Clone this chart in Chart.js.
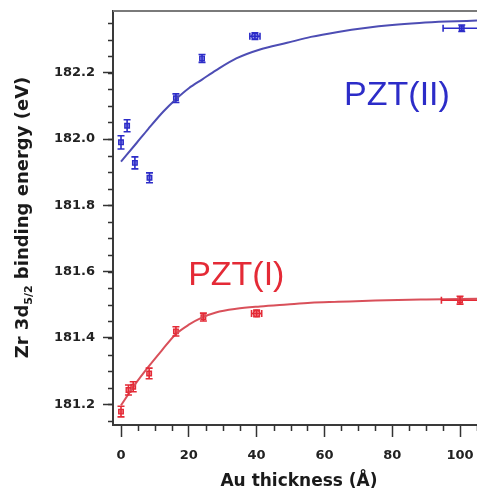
<!DOCTYPE html>
<html><head><meta charset="utf-8">
<script src="https://cdn.jsdelivr.net/npm/chart.js@4.4.1/dist/chart.umd.min.js"></script>
<style>html,body{margin:0;padding:0;background:#fff;overflow:hidden}#wrap{width:477px;height:489px;position:relative}</style>
</head><body><div id="wrap"><canvas id="c"></canvas></div>
<script>
// ---- data ----
const blueX    = [0, 1.8, 4.1, 8.4, 16.2, 23.9, 39.5, 100.5];
const blueY    = [181.99, 182.04, 181.928, 181.883, 182.123, 182.243, 182.31, 182.334];
const blueYErr = [0.02, 0.018, 0.018, 0.015, 0.013, 0.012, 0.01, 0.01];
const blueXErr = [0, 0, 0, 0, 0, 0, 1.5, 5.5];
const redX     = [0, 2.2, 3.6, 8.3, 16.2, 24.3, 40, 100];
const redY     = [181.178, 181.243, 181.253, 181.293, 181.42, 181.463, 181.474, 181.514];
const redYErr  = [0.016, 0.015, 0.015, 0.016, 0.014, 0.012, 0.01, 0.012];
const redXErr  = [0, 0, 0, 0, 0, 0, 1.5, 5.5];
const blueFitX = [0, 4.6, 8, 12.5, 16.2, 20, 24, 28, 34, 41, 49, 56, 64, 72, 80, 88, 96, 105];
const blueFitY = [181.932, 181.988, 182.03, 182.083, 182.12, 182.153, 182.18, 182.207, 182.243, 182.27, 182.29, 182.308, 182.323, 182.335, 182.344, 182.35, 182.354, 182.357];
const redFitX  = [0, 4, 8, 12, 16, 20, 24, 28, 34, 41, 49, 56, 64, 75, 90, 105];
const redFitY  = [181.197, 181.258, 181.312, 181.362, 181.41, 181.44, 181.462, 181.477, 181.488, 181.495, 181.501, 181.506, 181.509, 181.513, 181.516, 181.518];
const xTicks   = [0, 20, 40, 60, 80, 100];
const yTicks   = [181.2, 181.4, 181.6, 181.8, 182.0, 182.2];
const xTitle   = 'Au thickness (Å)';
const yTitleA  = 'Zr 3d', yTitleSub = '5/2', yTitleB = ' binding energy (eV)';
const labelII  = {text: 'PZT(II)', x: 65.8, y: 182.103};
const labelI   = {text: 'PZT(I)',  x: 19.8, y: 181.56};

const BLUE = '#2c2cc8', BLUE_LINE = '#4d4db4', RED = '#e42a36', RED_LINE = '#d9505a';
const pts = (xs, ys) => xs.map((x, i) => ({x, y: ys[i]}));

const errPlugin = {
  id: 'err',
  afterDatasetsDraw(chart) {
    const {ctx} = chart, xs = chart.scales.x, ys = chart.scales.y;
    chart.data.datasets.forEach(ds => {
      if (!ds.yErr) return;
      ctx.save();
      ctx.strokeStyle = ds.borderColor; ctx.lineWidth = 1.6;
      ds.data.forEach((p, i) => {
        const px = xs.getPixelForValue(p.x), py = ys.getPixelForValue(p.y);
        const y1 = ys.getPixelForValue(p.y + ds.yErr[i]), y2 = ys.getPixelForValue(p.y - ds.yErr[i]);
        ctx.beginPath();
        ctx.moveTo(px, y1); ctx.lineTo(px, y2);
        ctx.moveTo(px - 3.5, y1); ctx.lineTo(px + 3.5, y1);
        ctx.moveTo(px - 3.5, y2); ctx.lineTo(px + 3.5, y2);
        if (ds.xErr[i] > 0) {
          const x1 = xs.getPixelForValue(p.x - ds.xErr[i]), x2 = xs.getPixelForValue(p.x + ds.xErr[i]);
          ctx.moveTo(x1, py); ctx.lineTo(x2, py);
          ctx.moveTo(x1, py - 3.5); ctx.lineTo(x1, py + 3.5);
          ctx.moveTo(x2, py - 3.5); ctx.lineTo(x2, py + 3.5);
        }
        ctx.stroke();
      });
      ctx.restore();
    });
  }
};

const decorPlugin = {
  id: 'decor',
  afterDraw(chart) {
    const {ctx, chartArea: a} = chart, xs = chart.scales.x, ys = chart.scales.y;
    ctx.save();
    // top frame
    ctx.strokeStyle = '#7a7a7a'; ctx.lineWidth = 2;
    ctx.beginPath(); ctx.moveTo(a.left, a.top); ctx.lineTo(a.right, a.top); ctx.stroke();
    // minor ticks
    ctx.strokeStyle = '#333'; ctx.lineWidth = 1.5;
    ctx.beginPath();
    for (let k = 0; k <= 24; k++) {
      const v = 181.15 + k * 0.05;
      if (v > ys.max) break;
      const py = Math.round(ys.getPixelForValue(v)) + 0.5;
      ctx.moveTo(a.left - 5, py); ctx.lineTo(a.left, py);
    }
    for (let v = 5; v <= 105; v += 5) {
      if (v % 20 === 0) continue;
      const px = Math.round(xs.getPixelForValue(v)) + 0.5;
      ctx.moveTo(px, a.bottom); ctx.lineTo(px, a.bottom + 6);
    }
    ctx.stroke();
    // text labels
    ctx.font = '34px "Liberation Sans", Arial, sans-serif';
    ctx.textBaseline = 'alphabetic'; ctx.textAlign = 'left';
    ctx.fillStyle = BLUE;
    ctx.fillText(labelII.text, xs.getPixelForValue(labelII.x), ys.getPixelForValue(labelII.y));
    ctx.fillStyle = RED;
    ctx.fillText(labelI.text, xs.getPixelForValue(labelI.x), ys.getPixelForValue(labelI.y));
    // x title
    ctx.fillStyle = '#1a1a1a';
    ctx.font = 'bold 17px "DejaVu Sans", sans-serif';
    ctx.textAlign = 'center';
    ctx.fillText(xTitle, 299, 486);
    // y title (rotated, with subscript)
    ctx.translate(27.5, 217.5);
    ctx.rotate(-Math.PI / 2);
    const big = 'bold 18px "DejaVu Sans", sans-serif', small = 'bold 11px "DejaVu Sans", sans-serif';
    ctx.font = big; const wA = ctx.measureText(yTitleA).width, wB = ctx.measureText(yTitleB).width;
    ctx.font = small; const wS = ctx.measureText(yTitleSub).width;
    let x0 = -(wA + wS + wB) / 2;
    ctx.textAlign = 'left';
    ctx.font = big; ctx.fillText(yTitleA, x0, 0); x0 += wA;
    ctx.font = small; ctx.fillText(yTitleSub, x0, 4); x0 += wS;
    ctx.font = big; ctx.fillText(yTitleB, x0, 0);
    ctx.restore();
  }
};

const tickFont = {family: '"DejaVu Sans", sans-serif', size: 13, weight: 'bold'};
const noPad = s => { s.paddingLeft = 0; s.paddingRight = 0; s.paddingTop = 0; s.paddingBottom = 0; };

new Chart(document.getElementById('c'), {
  type: 'scatter',
  data: {
    datasets: [
      {data: pts(blueFitX, blueFitY), showLine: true, pointRadius: 0, pointHoverRadius: 0, borderColor: BLUE_LINE, borderWidth: 2, cubicInterpolationMode: 'monotone'},
      {data: pts(redFitX, redFitY), showLine: true, pointRadius: 0, pointHoverRadius: 0, borderColor: RED_LINE, borderWidth: 2, cubicInterpolationMode: 'monotone'},
      {data: pts(blueX, blueY), yErr: blueYErr, xErr: blueXErr, pointStyle: ['rect','rect','rect','rect','rect','rect','circle','rect'],
       pointRadius: 3.2, backgroundColor: 'rgba(60,60,215,0.55)', borderColor: BLUE, borderWidth: 1.4},
      {data: pts(redX, redY), yErr: redYErr, xErr: redXErr, pointStyle: ['rect','rect','rect','rect','rect','rect','circle','rect'],
       pointRadius: 3.2, backgroundColor: 'rgba(235,50,60,0.55)', borderColor: RED, borderWidth: 1.4}
    ]
  },
  options: {
    responsive: true, maintainAspectRatio: false, animation: false,
    layout: {autoPadding: false, padding: {top: 11, right: 0, left: 0, bottom: 0}},
    plugins: {legend: {display: false}, tooltip: {enabled: false}},
    scales: {
      x: {
        type: 'linear', min: -2.36, max: 105,
        afterBuildTicks: s => { s.ticks = xTicks.map(v => ({value: v})); },
        afterFit: s => { s.height = 64; noPad(s); },
        grid: {drawOnChartArea: false, drawTicks: true, tickLength: 12, tickColor: '#333', tickWidth: 1.5},
        border: {display: true, color: '#3a3a3a', width: 2},
        ticks: {font: tickFont, color: '#222', padding: 11, maxRotation: 0, callback: v => String(v)}
      },
      y: {
        type: 'linear', min: 181.1376, max: 182.386,
        afterBuildTicks: s => { s.ticks = yTicks.map(v => ({value: v})); },
        afterFit: s => { s.width = 113; noPad(s); },
        grid: {drawOnChartArea: false, drawTicks: true, tickLength: 10, tickColor: '#333', tickWidth: 1.5},
        border: {display: true, color: '#3a3a3a', width: 2},
        ticks: {font: tickFont, color: '#222', padding: 8, callback: v => v.toFixed(1)}
      }
    }
  },
  plugins: [errPlugin, decorPlugin]
});
</script>
</body></html>
